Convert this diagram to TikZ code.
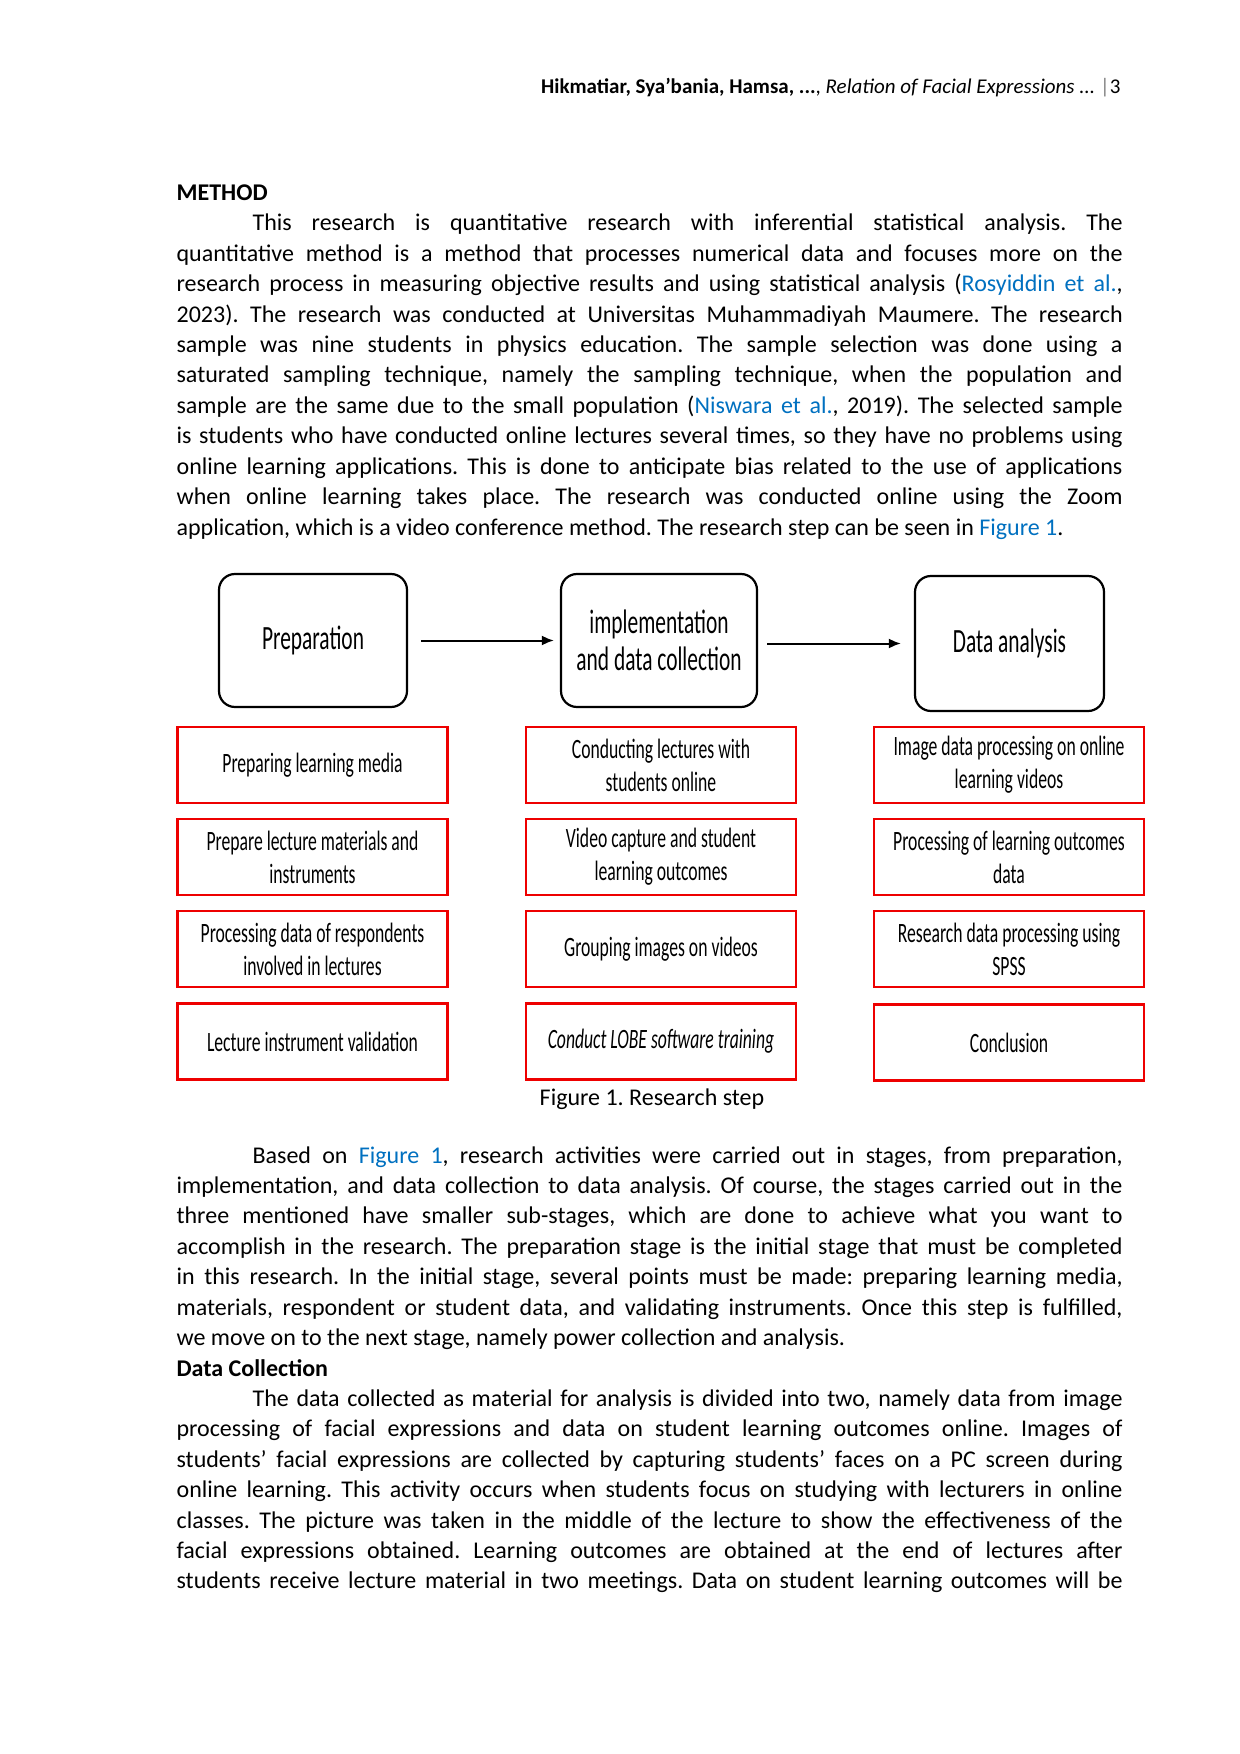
\documentclass[tikz,border=0pt]{standalone}
\usepackage{fontspec}
\setmainfont{Carlito}
\newfontfamily\boxfont{Carlito}[FakeStretch=0.63]
\usetikzlibrary{arrows.meta,positioning}
\definecolor{linkblue}{HTML}{0070C0}
\definecolor{boxred}{HTML}{EE0000}
\frenchspacing
\newcommand{\reflink}[1]{\textcolor{linkblue}{#1}}
% one justified line of body text
\newcommand{\jline}[3][176]{\node[body] at (#1,#2) {\makebox[\dimexpr473pt-(#1pt-176pt)/2\relax][s]{#3}};}
\newcommand{\lastline}[3][176]{\node[body] at (#1,#2) {#3};}

\begin{document}
\begin{tikzpicture}[x=0.5pt,y=-0.5pt,>={Latex[length=6pt,width=5pt]},semithick]
  \tikzset{
    body/.style={anchor=base west,inner sep=0pt,font=\fontsize{12}{15}\selectfont},
    stage/.style={draw=black,line width=1.1pt,rounded corners=8pt,align=center,
      minimum height=66.5pt,font=\boxfont\fontsize{17}{18.8}\selectfont},
    substep/.style={draw=boxred,line width=1.4pt,align=center,minimum width=135pt,
      minimum height=38pt,font=\boxfont\fontsize{14}{16.5}\selectfont},
  }
  \useasboundingbox (0,0) rectangle (1240,1754);

  % header
  \node[anchor=base east,inner sep=0pt,font=\fontsize{10.5}{12}\selectfont] (head) at (1121,94)
    {\textbf{Hikmatiar, Sya'bania, Hamsa, ...}, \textit{Relation of Facial Expressions ...} {\color{gray}|}3};

  % method text
  \node[body,font=\bfseries\fontsize{12}{15}\selectfont] (method) at (176,201) {METHOD};
  \jline[252]{231}{This research is quantitative research with inferential statistical analysis. The}
  \jline{261.4}{quantitative method is a method that processes numerical data and focuses more on the}
  \jline{291.8}{research process in measuring objective results and using statistical analysis (\reflink{Rosyiddin et al.},}
  \jline{322.2}{2023). The research was conducted at Universitas Muhammadiyah Maumere. The research}
  \jline{352.6}{sample was nine students in physics education. The sample selection was done using a}
  \jline{383}{saturated sampling technique, namely the sampling technique, when the population and}
  \jline{413.4}{sample are the same due to the small population (\reflink{Niswara et al.}, 2019). The selected sample}
  \jline{443.8}{is students who have conducted online lectures several times, so they have no problems using}
  \jline{474.2}{online learning applications. This is done to anticipate bias related to the use of applications}
  \jline{504.6}{when online learning takes place. The research was conducted online using the Zoom}
  \lastline{535}{application, which is a video conference method. The research step can be seen in \reflink{Figure 1}.}

  % stages
  \node[stage,minimum width=94pt] (prep) at (313,640.5) {Preparation};
  \node[stage,minimum width=98pt] (impl) at (659,640.5) {implementation\\and data collection};
  \node[stage,minimum width=94.5pt,minimum height=67.5pt] (anal) at (1009.5,643.5) {Data analysis};
  \draw[->,line width=1pt,shorten <=6.5pt,shorten >=3pt] (prep.east) -- (impl.west |- prep.east);
  \draw[->,line width=1pt,shorten <=4.5pt,shorten >=6.5pt] (impl.east |- anal.west) -- (anal.west);

  % sub-steps
  \node[substep] (p1) at (312.5,765) {Preparing learning media};
  \node[substep] (p2) at (312.5,857) {Prepare lecture materials and\\instruments};
  \node[substep] (p3) at (312.5,949) {Processing data of respondents\\involved in lectures};
  \node[substep] (p4) at (312.5,1041.5) {Lecture instrument validation};
  \node[substep] (i1) at (661,765) {Conducting lectures with\\students online};
  \node[substep] (i2) at (661,857) {Video capture and student\\learning outcomes};
  \node[substep] (i3) at (661,949) {Grouping images on videos};
  \node[substep] (i4) at (661,1041.5) {\itshape Conduct LOBE software training};
  \node[substep] (a1) at (1009,765) {Image data processing on online\\learning videos};
  \node[substep] (a2) at (1009,857) {Processing of learning outcomes\\data};
  \node[substep] (a3) at (1009,949) {Research data processing using\\SPSS};
  \node[substep] (a4) at (1009,1042.5) {Conclusion};

  \node[body,anchor=base] (caption) at (652,1105) {Figure 1. Research step};

  % following text
  \jline[252]{1163}{Based on \reflink{Figure 1}, research activities were carried out in stages, from preparation,}
  \jline{1193.4}{implementation, and data collection to data analysis. Of course, the stages carried out in the}
  \jline{1223.8}{three mentioned have smaller sub-stages, which are done to achieve what you want to}
  \jline{1254.2}{accomplish in the research. The preparation stage is the initial stage that must be completed}
  \jline{1284.6}{in this research. In the initial stage, several points must be made: preparing learning media,}
  \jline{1315}{materials, respondent or student data, and validating instruments. Once this step is fulfilled,}
  \lastline{1345.4}{we move on to the next stage, namely power collection and analysis.}
  \node[body,font=\bfseries\fontsize{12}{15}\selectfont] (datacoll) at (176,1376) {Data Collection};
  \jline[252]{1406.5}{The data collected as material for analysis is divided into two, namely data from image}
  \jline{1436.9}{processing of facial expressions and data on student learning outcomes online. Images of}
  \jline{1467.3}{students' facial expressions are collected by capturing students' faces on a PC screen during}
  \jline{1497.7}{online learning. This activity occurs when students focus on studying with lecturers in online}
  \jline{1528.1}{classes. The picture was taken in the middle of the lecture to show the effectiveness of the}
  \jline{1558.5}{facial expressions obtained. Learning outcomes are obtained at the end of lectures after}
  \jline{1588.9}{students receive lecture material in two meetings. Data on student learning outcomes will be}
\end{tikzpicture}
\end{document}
